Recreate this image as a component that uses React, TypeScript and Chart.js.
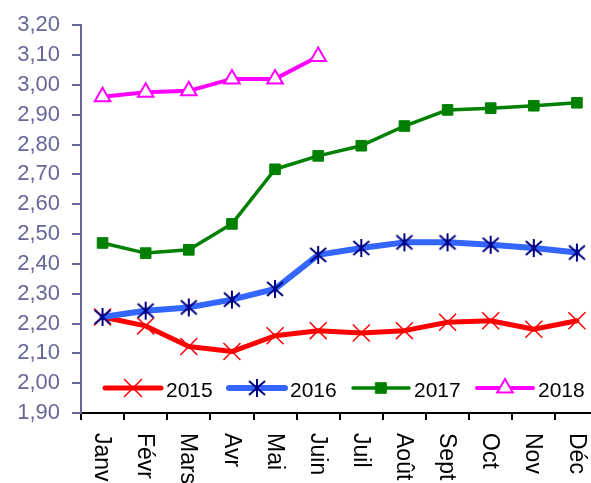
import React, { useEffect, useRef } from 'react';
import { Chart, registerables } from 'chart.js';
import { drawPoint } from 'chart.js/helpers';

Chart.register(...registerables);

const months = ['Janv', 'Févr', 'Mars', 'Avr', 'Mai', 'Juin', 'Juil', 'Août', 'Sept', 'Oct', 'Nov', 'Déc'];
const seriesNames = ['2015', '2016', '2017', '2018'];
const s2015 = [2.222, 2.192, 2.123, 2.106, 2.159, 2.176, 2.168, 2.176, 2.204, 2.209, 2.181, 2.209];
const s2016 = [2.222, 2.243, 2.254, 2.28, 2.316, 2.43, 2.453, 2.472, 2.472, 2.464, 2.453, 2.438];
const s2017 = [2.47, 2.436, 2.447, 2.534, 2.717, 2.762, 2.796, 2.862, 2.916, 2.922, 2.93, 2.94];
const s2018 = [2.96, 2.975, 2.98, 3.02, 3.02, 3.095];
const yMin = 1.9;
const yMax = 3.2;
const yStep = 0.1;

const FONT = "'Liberation Sans', Arial, sans-serif";
const AXIS_PURPLE = '#666699';

function makeAsterisk(): HTMLCanvasElement {
  const c = document.createElement('canvas');
  c.width = 20;
  c.height = 20;
  const g = c.getContext('2d')!;
  g.strokeStyle = '#000080';
  g.lineWidth = 2;
  g.lineCap = 'butt';
  g.beginPath();
  g.moveTo(10, 1);
  g.lineTo(10, 19);
  g.moveTo(2, 3);
  g.lineTo(18, 17);
  g.moveTo(18, 3);
  g.lineTo(2, 17);
  g.stroke();
  return c;
}

const xLabelPlugin = {
  id: 'rotatedXLabels',
  afterDraw(chart: any) {
    const { ctx, chartArea } = chart;
    const xs = chart.scales.x;
    ctx.save();
    ctx.font = `23px ${FONT}`;
    ctx.fillStyle = '#000';
    ctx.textAlign = 'left';
    ctx.textBaseline = 'middle';
    months.forEach((m, i) => {
      const x = xs.getPixelForValue(i);
      ctx.save();
      ctx.translate(x - 1, chartArea.bottom + 20);
      ctx.rotate(Math.PI / 2);
      ctx.fillText(m, 0, 0);
      ctx.restore();
    });
    ctx.restore();
  },
};

const legendPlugin = {
  id: 'innerLegend',
  afterDraw(chart: any) {
    const { ctx, chartArea } = chart;
    const startX = chartArea.left + 24;
    const y = chartArea.bottom - 25;
    chart.data.datasets.forEach((ds: any, i: number) => {
      const x0 = startX + i * 124;
      ctx.save();
      ctx.strokeStyle = ds.borderColor;
      ctx.lineWidth = ds.borderWidth;
      ctx.lineCap = 'round';
      ctx.beginPath();
      ctx.moveTo(x0, y);
      ctx.lineTo(x0 + 56, y);
      ctx.stroke();
      ctx.fillStyle = ds.pointBackgroundColor;
      ctx.strokeStyle = ds.pointBorderColor;
      ctx.lineWidth = ds.pointBorderWidth;
      drawPoint(ctx, { pointStyle: ds.pointStyle, radius: ds.pointRadius, borderWidth: ds.pointBorderWidth, rotation: 0 } as any, x0 + 28, y);
      ctx.fillStyle = '#000';
      ctx.font = `21px ${FONT}`;
      ctx.textAlign = 'left';
      ctx.textBaseline = 'middle';
      ctx.fillText(seriesNames[i], x0 + 61, y + 3);
      ctx.restore();
    });
  },
};

export default function App() {
  const ref = useRef<HTMLCanvasElement | null>(null);
  useEffect(() => {
    if (!ref.current) return;
    const asterisk = makeAsterisk();
    const chart = new Chart(ref.current, {
      type: 'line',
      data: {
        labels: months,
        datasets: [
          {
            label: seriesNames[0],
            data: s2015,
            borderColor: '#FF0000',
            borderWidth: 5,
            borderJoinStyle: 'round',
            borderCapStyle: 'round',
            pointStyle: 'crossRot',
            pointRadius: 12,
            pointBorderWidth: 1.5,
            pointBorderColor: '#FF0000',
            pointBackgroundColor: '#FF0000',
            tension: 0,
            order: 1,
          },
          {
            label: seriesNames[1],
            data: s2016,
            borderColor: '#3366FF',
            borderWidth: 6,
            borderJoinStyle: 'round',
            borderCapStyle: 'round',
            pointStyle: asterisk,
            pointRadius: 9,
            pointBorderWidth: 2,
            pointBorderColor: '#000080',
            pointBackgroundColor: '#000080',
            tension: 0,
            order: 0,
          },
          {
            label: seriesNames[2],
            data: s2017,
            borderColor: '#008000',
            borderWidth: 3.5,
            borderJoinStyle: 'round',
            pointStyle: 'rect',
            pointRadius: 7.5,
            pointBorderWidth: 1,
            pointBorderColor: '#008000',
            pointBackgroundColor: '#008000',
            tension: 0,
            order: 2,
          },
          {
            label: seriesNames[3],
            data: s2018,
            borderColor: '#FF00FF',
            borderWidth: 4,
            borderJoinStyle: 'round',
            pointStyle: 'triangle',
            pointRadius: 9,
            pointBorderWidth: 2,
            pointBorderColor: '#FF00FF',
            pointBackgroundColor: '#FFFFFF',
            tension: 0,
            order: 3,
          },
        ],
      },
      options: {
        responsive: false,
        animation: false,
        layout: { padding: { left: 0, right: 2, top: 25, bottom: 63 } },
        plugins: { legend: { display: false }, tooltip: { enabled: false }, title: { display: false } },
        scales: {
          x: {
            type: 'category',
            offset: true,
            grid: { offset: true, drawOnChartArea: false, drawTicks: true, tickLength: 7, color: '#000', lineWidth: 2 },
            border: { color: '#000', width: 2 },
            ticks: { display: false },
          },
          y: {
            min: yMin,
            max: yMax,
            afterFit: (s: any) => { s.width = 81; },
            grid: { drawOnChartArea: false, drawTicks: true, tickLength: 9, color: AXIS_PURPLE, lineWidth: 2 },
            border: { color: AXIS_PURPLE, width: 2 },
            ticks: {
              stepSize: yStep,
              padding: 12,
              color: AXIS_PURPLE,
              font: { family: FONT, size: 22 },
              callback: (v: any) => Number(v).toFixed(2).replace('.', ','),
            },
          },
        },
      },
      plugins: [xLabelPlugin, legendPlugin],
    });
    return () => chart.destroy();
  }, []);
  return (
    <div style={{ position: 'fixed', left: 0, top: 0, width: 591, height: 483, overflow: 'hidden', background: '#fff' }}>
      <canvas ref={ref} width={612} height={483} style={{ display: 'block' }} />
    </div>
  );
}
